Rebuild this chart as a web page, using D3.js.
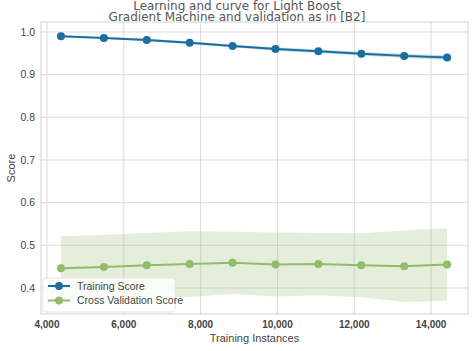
<!DOCTYPE html>
<html>
<head>
<meta charset="utf-8">
<script src="https://cdn.jsdelivr.net/npm/d3@7"></script>
<style>
  body { margin: 0; background: #fff; }
  text { font-family: "Liberation Sans", Arial, sans-serif; fill: #444; }
  .title { font-family: "DejaVu Sans", sans-serif; fill: #555; }
</style>
</head>
<body>
<div id="chart"></div>
<script>
var sizes = [4364, 5481, 6598, 7715, 8832, 9949, 11066, 12183, 13300, 14417]
var trainMean = [0.990, 0.986, 0.981, 0.975, 0.967, 0.960, 0.955, 0.949, 0.944, 0.940]
var trainStd = [0.002, 0.002, 0.003, 0.003, 0.003, 0.004, 0.004, 0.004, 0.005, 0.005]
var cvMean = [0.446, 0.449, 0.453, 0.456, 0.459, 0.455, 0.456, 0.453, 0.451, 0.455]
var cvStd = [0.075, 0.076, 0.076, 0.077, 0.073, 0.075, 0.073, 0.075, 0.084, 0.085]
var xTicks = [4000, 6000, 8000, 10000, 12000, 14000]
var yTicks = [0.4, 0.5, 0.6, 0.7, 0.8, 0.9, 1.0]
var seriesNames = ["Training Score", "Cross Validation Score"]
var colors = ["#1a6f9e", "#92bb6c"]

var W = 474, H = 351
var m = {left: 41, right: 6, top: 22, bottom: 37}

var svg = d3.select("#chart").append("svg")
  .attr("width", W).attr("height", H)

var x = d3.scaleLinear().domain([3844, 14961]).range([m.left, W - m.right])
var y = d3.scaleLinear().domain([0.339, 1.0234]).range([H - m.bottom, m.top])

// grid
svg.append("g").selectAll("line").data(xTicks).enter().append("line")
  .attr("x1", d => x(d)).attr("x2", d => x(d))
  .attr("y1", m.top).attr("y2", H - m.bottom)
  .attr("stroke", "#dcdcdc").attr("stroke-width", 1)
svg.append("g").selectAll("line").data(yTicks).enter().append("line")
  .attr("y1", d => y(d)).attr("y2", d => y(d))
  .attr("x1", m.left).attr("x2", W - m.right)
  .attr("stroke", "#dcdcdc").attr("stroke-width", 1)

// frame
svg.append("rect")
  .attr("x", m.left).attr("y", m.top)
  .attr("width", W - m.left - m.right).attr("height", H - m.top - m.bottom)
  .attr("fill", "none").attr("stroke", "#d2d2d2")

var series = [
  {mean: trainMean, std: trainStd, color: colors[0]},
  {mean: cvMean, std: cvStd, color: colors[1]}
]

var area = d3.area()
  .x((d, i) => x(sizes[i]))
var line = d3.line().x((d, i) => x(sizes[i])).y(d => y(d))

series.forEach(function(s) {
  svg.append("path").datum(s.mean)
    .attr("d", area.y0((d, i) => y(d - s.std[i])).y1((d, i) => y(d + s.std[i])))
    .attr("fill", s.color).attr("fill-opacity", 0.25)
})
series.forEach(function(s) {
  svg.append("path").datum(s.mean)
    .attr("d", line)
    .attr("fill", "none").attr("stroke", s.color).attr("stroke-width", 2)
  svg.append("g").selectAll("circle").data(s.mean).enter().append("circle")
    .attr("cx", (d, i) => x(sizes[i])).attr("cy", d => y(d))
    .attr("r", 4).attr("fill", s.color)
})

// tick labels
svg.append("g").selectAll("text").data(yTicks).enter().append("text")
  .attr("x", m.left - 6).attr("y", d => y(d)).attr("dy", "0.35em")
  .attr("text-anchor", "end").attr("font-size", 10.5)
  .text(d3.format(".1f"))
svg.append("g").selectAll("text").data(xTicks).enter().append("text")
  .attr("x", d => x(d)).attr("y", H - m.bottom + 14)
  .attr("text-anchor", "middle").attr("font-size", 10).attr("font-weight", "bold")
  .text(d3.format(","))

// axis labels and title
svg.append("text").attr("x", (m.left + W - m.right) / 2).attr("y", 342)
  .attr("text-anchor", "middle").attr("font-size", 11).text("Training Instances")
svg.append("text").attr("transform", "translate(15," + ((m.top + H - m.bottom) / 2) + ") rotate(-90)")
  .attr("text-anchor", "middle").attr("font-size", 11).text("Score")
svg.append("text").attr("class", "title").attr("x", 237).attr("y", 10)
  .attr("text-anchor", "middle").attr("font-size", 12).text("Learning and curve for Light Boost")
svg.append("text").attr("class", "title").attr("x", 237).attr("y", 21)
  .attr("text-anchor", "middle").attr("font-size", 12).text("Gradient Machine and validation as in [B2]")

// legend
var lg = svg.append("g").attr("transform", "translate(43,278)")
lg.append("rect").attr("width", 132).attr("height", 34)
  .attr("fill", "#fff").attr("fill-opacity", 0.8).attr("stroke", "#e6e6e6").attr("rx", 2)
seriesNames.forEach(function(name, i) {
  var g = lg.append("g").attr("transform", "translate(0," + (8 + i * 14.5) + ")")
  g.append("line").attr("x1", 5).attr("x2", 27).attr("stroke", colors[i]).attr("stroke-width", 2)
  g.append("circle").attr("cx", 16).attr("r", 4).attr("fill", colors[i])
  g.append("text").attr("x", 34).attr("dy", "0.35em").attr("font-size", 10.5).text(name)
})
</script>
</body>
</html>
